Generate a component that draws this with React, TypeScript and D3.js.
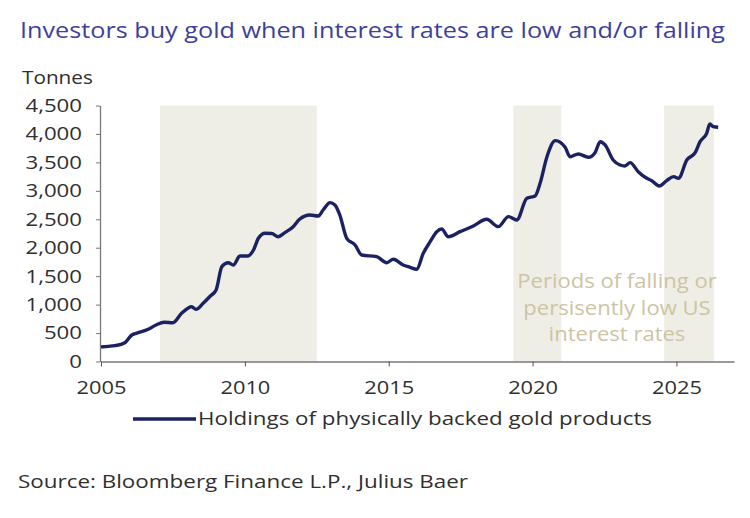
import { useEffect, useRef } from 'react'
import * as d3 from 'd3'

const years = [
  2005.0, 2005.08, 2005.49, 2005.83, 2006.07, 2006.3, 2006.64, 2006.93, 2007.2, 2007.5,
  2007.8, 2008.15, 2008.3, 2008.55, 2008.8, 2009.0, 2009.2, 2009.42, 2009.6, 2009.83,
  2010.1, 2010.3, 2010.47, 2010.7, 2010.93, 2011.16, 2011.39, 2011.68, 2011.9, 2012.26,
  2012.55, 2012.72, 2012.96, 2013.13, 2013.3, 2013.54, 2013.83, 2014.06, 2014.58, 2014.93,
  2015.16, 2015.5, 2015.74, 2015.97, 2016.2, 2016.44, 2016.67, 2016.84, 2017.07, 2017.48,
  2017.94, 2018.4, 2018.81, 2019.16, 2019.45, 2019.8, 2020.09, 2020.26, 2020.5, 2020.79,
  2021.13, 2021.3, 2021.59, 2021.94, 2022.17, 2022.35, 2022.52, 2022.8, 2023.04, 2023.21,
  2023.39, 2023.67, 2023.97, 2024.14, 2024.4, 2024.66, 2024.9, 2025.07, 2025.36, 2025.65,
  2025.82, 2026.05, 2026.16, 2026.28, 2026.45,
]

const holdings = [
  255, 260, 278, 330, 466, 506, 566, 647, 689, 682,
  847, 963, 917, 1023, 1151, 1257, 1667, 1737, 1696, 1855,
  1855, 1960, 2166, 2254, 2250, 2194, 2265, 2370, 2500, 2575,
  2558, 2663, 2792, 2751, 2575, 2166, 2048, 1872, 1842, 1737,
  1797, 1696, 1656, 1621, 1902, 2106, 2282, 2329, 2194, 2282,
  2382, 2500, 2370, 2546, 2488, 2869, 2910, 3133, 3600, 3882,
  3765, 3600, 3648, 3590, 3671, 3864, 3806, 3542, 3454, 3437,
  3495, 3337, 3220, 3179, 3085, 3179, 3249, 3220, 3542, 3671,
  3864, 4011, 4175, 4128, 4117,
]

// periods of falling or persistently low US interest rates
const bandStarts = [2007.05, 2019.33, 2024.57]
const bandEnds = [2012.5, 2021.0, 2026.3]

const yTicks = [0, 500, 1000, 1500, 2000, 2500, 3000, 3500, 4000, 4500]
const xTicks = [2005, 2010, 2015, 2020, 2025]

const title = 'Investors buy gold when interest rates are low and/or falling'
const unitLabel = 'Tonnes'
const seriesName = 'Holdings of physically backed gold products'
const noteLines = ['Periods of falling or', 'persisently low US', 'interest rates']
const source = 'Source: Bloomberg Finance L.P., Julius Baer'

const font = '"Open Sans", "Noto Sans", sans-serif'
const textColor = '#2f2f2f'

// the reference lettering is a little wider than Open Sans, so stretch it
function widen(sel: d3.Selection<any, any, any, any>, factor: number) {
  sel.each(function () {
    const node = this as SVGTextElement
    const w = node.getComputedTextLength()
    d3.select(node).attr('textLength', w * factor).attr('lengthAdjust', 'spacingAndGlyphs')
  })
}

export default function App() {
  const ref = useRef<SVGSVGElement>(null)

  useEffect(() => {
    if (!ref.current) return
    const svg = d3.select(ref.current)
    svg.selectAll('*').remove()

    const x = d3.scaleLinear().domain([2005, 2027]).range([101, 734])
    const y = d3.scaleLinear().domain([0, 4500]).range([361.5, 105.5])

    svg.append('rect').attr('width', 750).attr('height', 518).attr('fill', '#fff')

    // shaded bands
    svg.append('g')
      .selectAll('rect')
      .data(bandStarts)
      .join('rect')
      .attr('x', (d) => x(d))
      .attr('width', (d, i) => x(bandEnds[i]) - x(d))
      .attr('y', y(4500))
      .attr('height', y(0) - y(4500))
      .attr('fill', '#efeee6')

    // annotation
    const note = svg.append('g')
      .selectAll('text')
      .data(noteLines)
      .join('text')
      .attr('x', 617)
      .attr('y', (d, i) => 288 + i * 26.5)
      .attr('text-anchor', 'middle')
      .style('font-family', font)
      .style('font-size', '19.5px')
      .style('fill', '#cdc4a3')
      .text((d) => d)
    widen(note, 1.13)

    // y axis
    const yAxis = svg.append('g')
      .attr('transform', `translate(${x(2005) - 1},0)`)
      .call(d3.axisLeft(y).tickValues(yTicks).tickSize(4).tickSizeOuter(0).tickPadding(14)
        .tickFormat((d) => d3.format(',')(d as number)))
    yAxis.select('.domain').attr('stroke', '#777').attr('stroke-width', 1.3)
    yAxis.selectAll('.tick line').attr('stroke', '#777')
    const yLabels = yAxis.selectAll('text')
      .style('font-family', font)
      .style('font-size', '18.5px')
      .style('fill', textColor)
    widen(yLabels, 1.2)

    // x axis
    const xAxis = svg.append('g')
      .attr('transform', `translate(0,${y(0)})`)
      .call(d3.axisBottom(x).tickValues(xTicks).tickSize(5).tickSizeOuter(0).tickPadding(14)
        .tickFormat((d) => String(d)))
    xAxis.select('.domain').attr('stroke', '#777').attr('stroke-width', 1.3)
    xAxis.selectAll('.tick line').attr('stroke', '#555')
    const xLabels = xAxis.selectAll('text')
      .style('font-family', font)
      .style('font-size', '18.5px')
      .style('fill', textColor)
    widen(xLabels, 1.18)

    // series
    const points = years.map((yr, i) => [yr, holdings[i]] as [number, number])
    const line = d3.line<[number, number]>()
      .x((d) => x(d[0]))
      .y((d) => y(d[1]))
      .curve(d3.curveMonotoneX)

    svg.append('path')
      .datum(points)
      .attr('fill', 'none')
      .attr('stroke', '#1b2161')
      .attr('stroke-width', 3.4)
      .attr('stroke-linejoin', 'round')
      .attr('d', line)

    // title & labels
    svg.append('text')
      .attr('x', 20)
      .attr('y', 38)
      .attr('textLength', 705)
      .attr('lengthAdjust', 'spacingAndGlyphs')
      .style('font-family', font)
      .style('font-size', '22px')
      .style('fill', '#3d3f9d')
      .text(title)

    const unit = svg.append('text')
      .attr('x', 22)
      .attr('y', 84)
      .style('font-family', font)
      .style('font-size', '18.5px')
      .style('fill', textColor)
      .text(unitLabel)
    widen(unit, 1.12)

    // legend
    svg.append('line')
      .attr('x1', 133)
      .attr('x2', 196)
      .attr('y1', 419)
      .attr('y2', 419)
      .attr('stroke', '#1b2161')
      .attr('stroke-width', 3.4)

    svg.append('text')
      .attr('x', 198)
      .attr('y', 425)
      .attr('textLength', 454)
      .attr('lengthAdjust', 'spacingAndGlyphs')
      .style('font-family', font)
      .style('font-size', '19px')
      .style('fill', textColor)
      .text(seriesName)

    svg.append('text')
      .attr('x', 18)
      .attr('y', 488)
      .attr('textLength', 450)
      .attr('lengthAdjust', 'spacingAndGlyphs')
      .style('font-family', font)
      .style('font-size', '19px')
      .style('fill', textColor)
      .text(source)
  }, [])

  return (
    <div style={{ position: 'absolute', left: 0, top: 0, width: 750, height: 518 }}>
      <svg ref={ref} width={750} height={518} />
    </div>
  )
}
